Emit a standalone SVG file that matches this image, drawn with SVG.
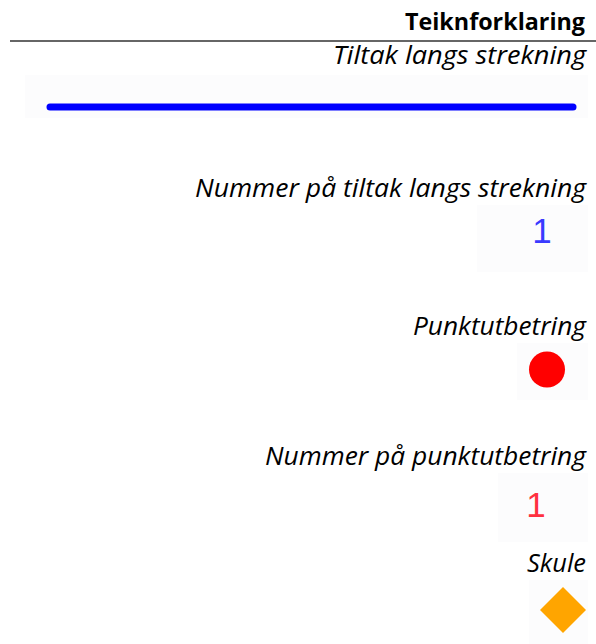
<svg xmlns="http://www.w3.org/2000/svg" width="596" height="644" viewBox="0 0 596 644">
<style>
.t{font-family:"Open Sans","Liberation Sans",sans-serif;font-size:25px;font-style:italic;fill:#000;text-anchor:end}
.h{font-family:"Open Sans","Liberation Sans",sans-serif;font-size:23px;font-weight:bold;fill:#000;text-anchor:end}
.n{font-family:"Liberation Sans",Arial,sans-serif;font-size:35px;text-anchor:middle}
.bg{fill:#fcfcfd}
</style>
<rect width="596" height="644" fill="#fff"/>
<g id="title">
<text class="h" x="585" y="30" textLength="180" lengthAdjust="spacingAndGlyphs">Teiknforklaring</text>
<line x1="10" y1="41" x2="596" y2="41" stroke="#666" stroke-width="2"/>
</g>
<g id="strekning">
<text class="t" x="586" y="64" textLength="253" lengthAdjust="spacingAndGlyphs">Tiltak langs strekning</text>
<rect class="bg" x="25" y="75" width="563" height="43"/>
<line x1="50" y1="107" x2="573" y2="107" stroke="#0000ff" stroke-width="7" stroke-linecap="round"/>
</g>
<g id="nummer-strekning">
<text class="t" x="586" y="197" textLength="391" lengthAdjust="spacingAndGlyphs">Nummer på tiltak langs strekning</text>
<rect class="bg" x="477" y="205" width="111" height="67"/>
<text class="n" x="542" y="243" fill="#3a3aff">1</text>
</g>
<g id="punktutbetring">
<text class="t" x="586" y="335" textLength="173" lengthAdjust="spacingAndGlyphs">Punktutbetring</text>
<rect class="bg" x="517" y="343" width="71" height="57"/>
<circle cx="547" cy="369.5" r="18" fill="#ff0000"/>
</g>
<g id="nummer-punkt">
<text class="t" x="586" y="465" textLength="321" lengthAdjust="spacingAndGlyphs">Nummer på punktutbetring</text>
<rect class="bg" x="498" y="473" width="90" height="69"/>
<text class="n" x="536" y="517" fill="#ff3040">1</text>
</g>
<g id="skule">
<text class="t" x="586" y="572" textLength="59" lengthAdjust="spacingAndGlyphs">Skule</text>
<rect class="bg" x="529" y="580" width="59" height="64"/>
<polygon points="563,587 586,610 563,633 540,610" fill="#ffa500"/>
</g>
</svg>
